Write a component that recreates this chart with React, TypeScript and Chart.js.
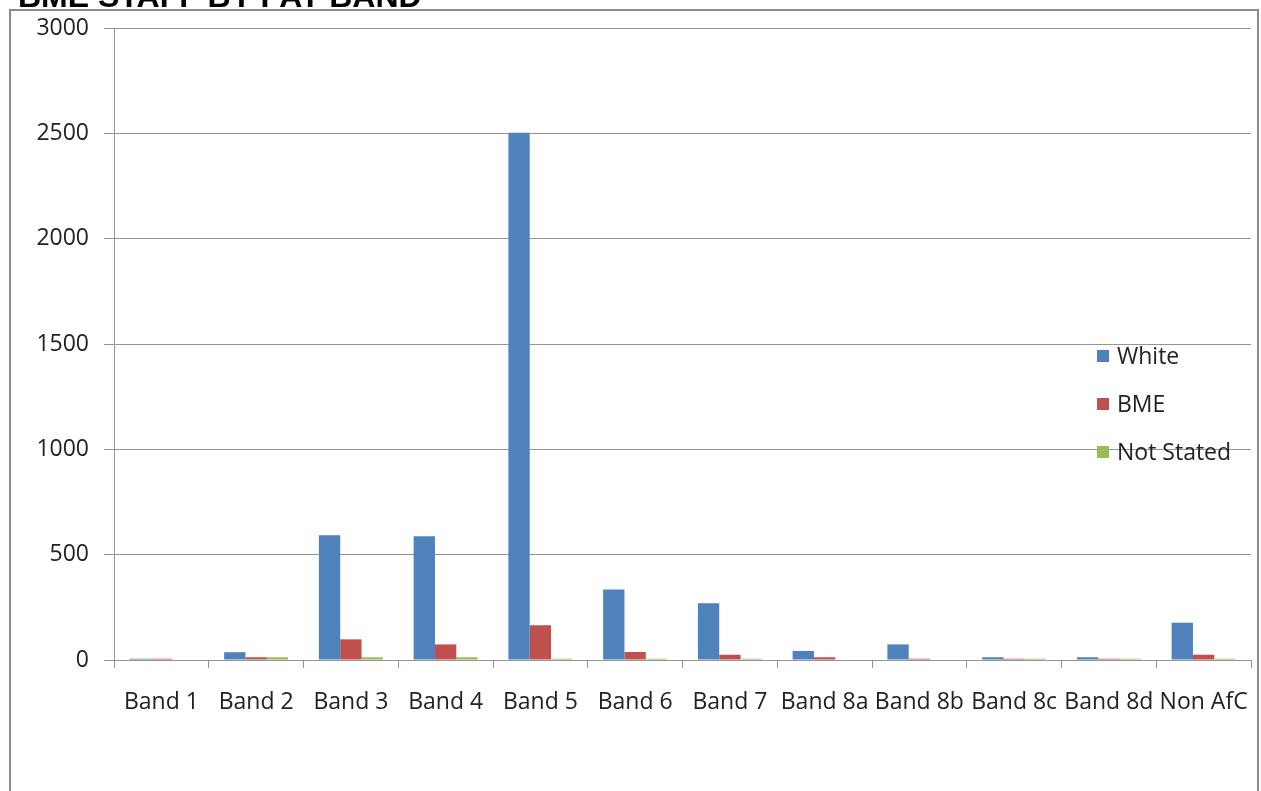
import React, { useEffect, useRef } from "react";
import { Chart, registerables } from "chart.js";

Chart.register(...registerables);

// Staff headcount by pay band and ethnicity
const bands = [
  "Band 1", "Band 2", "Band 3", "Band 4", "Band 5", "Band 6",
  "Band 7", "Band 8a", "Band 8b", "Band 8c", "Band 8d", "Non AfC",
];
const whiteStaff = [6, 37, 592, 587, 2503, 335, 269, 43, 74, 13, 13, 177];
const bmeStaff = [6, 13, 98, 74, 165, 38, 25, 13, 6, 6, 6, 25];
const notStated = [0, 13, 13, 13, 6, 6, 6, 0, 0, 6, 6, 6];
const yTicks = [0, 500, 1000, 1500, 2000, 2500, 3000];

const FONT = "'Open Sans', 'DejaVu Sans', sans-serif";
const AXIS_GREY = "#959595";

// Legend drawn inside the plot, to the right, without a background
const insideLegend = {
  id: "insideLegend",
  afterDraw(chart: Chart) {
    const { ctx, chartArea } = chart;
    const x = chartArea.left + 983;
    let y = chartArea.top + 328;
    ctx.save();
    ctx.font = `23px ${FONT}`;
    ctx.textBaseline = "middle";
    chart.data.datasets.forEach((ds) => {
      ctx.fillStyle = ds.backgroundColor as string;
      ctx.fillRect(x, y - 6, 12, 12);
      ctx.fillStyle = "#222";
      ctx.fillText(ds.label as string, x + 20, y + 1);
      y += 48;
    });
    ctx.restore();
  },
};

export default function App() {
  const canvasRef = useRef<HTMLCanvasElement | null>(null);

  useEffect(() => {
    if (!canvasRef.current) return;
    const chart = new Chart(canvasRef.current, {
      type: "bar",
      data: {
        labels: bands,
        datasets: [
          { label: "White", data: whiteStaff, backgroundColor: "#4F81BD" },
          { label: "BME", data: bmeStaff, backgroundColor: "#C0504D" },
          { label: "Not Stated", data: notStated, backgroundColor: "#9BBB59" },
        ],
      },
      options: {
        animation: false,
        responsive: false,
        maintainAspectRatio: false,
        layout: { padding: { left: 0, right: 10, top: 28, bottom: 0 } },
        datasets: {
          bar: { categoryPercentage: 0.675, barPercentage: 1 },
        },
        plugins: {
          legend: { display: false },
          tooltip: { enabled: false },
          title: { display: false },
        },
        scales: {
          x: {
            afterFit: (s: any) => {
              s.height = 131;
              s.paddingLeft = 0;
              s.paddingRight = 0;
            },
            grid: {
              drawOnChartArea: false,
              drawTicks: true,
              tickLength: 8,
              color: AXIS_GREY,
              offset: true,
            },
            border: { display: true, color: AXIS_GREY, width: 1 },
            ticks: {
              color: "#222",
              font: { family: FONT, size: 23 },
              padding: 21,
              maxRotation: 0,
              autoSkip: false,
            },
          },
          y: {
            min: 0,
            max: 3000,
            afterFit: (s: any) => {
              s.width = 114;
              s.paddingTop = 0;
              s.paddingBottom = 0;
            },
            afterBuildTicks: (s: any) => {
              s.ticks = yTicks.map((v) => ({ value: v }));
            },
            grid: {
              drawOnChartArea: true,
              drawTicks: true,
              tickLength: 10,
              color: AXIS_GREY,
              lineWidth: 1,
            },
            border: { display: true, color: AXIS_GREY, width: 1 },
            ticks: {
              color: "#222",
              font: { family: FONT, size: 23 },
              padding: 15,
              callback: (v: any) => String(v),
            },
          },
        },
      },
      plugins: [insideLegend],
    });
    return () => chart.destroy();
  }, []);

  return (
    <div
      style={{
        position: "fixed",
        left: 0,
        top: 0,
        width: 1261,
        height: 791,
        overflow: "hidden",
        background: "#fff",
      }}
    >
      <div
        style={{
          position: "absolute",
          left: 9,
          top: 9,
          width: 1246,
          height: 820,
          border: "2px solid #8a8a8a",
        }}
      />
      <canvas
        ref={canvasRef}
        width={1261}
        height={791}
        style={{ position: "absolute", left: 0, top: 0, width: 1261, height: 791 }}
      />
      <div
        style={{
          position: "absolute",
          left: 18,
          top: -22,
          fontFamily: "'Liberation Sans', Arial, sans-serif",
          fontWeight: "bold",
          fontSize: 32,
          lineHeight: "normal",
          color: "#000",
          whiteSpace: "nowrap",
        }}
      >
        BME STAFF BY PAY BAND
      </div>
    </div>
  );
}
